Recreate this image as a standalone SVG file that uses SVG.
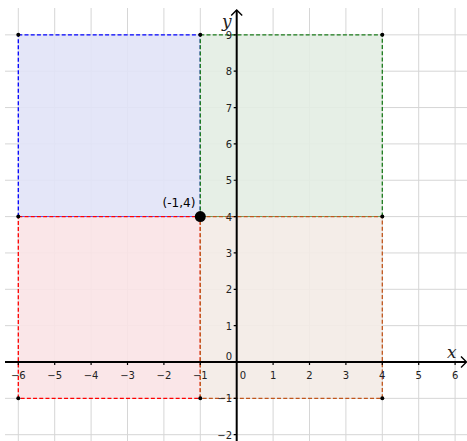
<svg xmlns="http://www.w3.org/2000/svg" width="467" height="441" viewBox="0 0 467 441">
<defs>
<style>
.grid{stroke:#d6d6d6;stroke-width:1;fill:none}
.axis{stroke:#000;stroke-width:2;fill:none}
.tick{stroke:#000;stroke-width:1.2}
.lbl{font-family:"DejaVu Sans",sans-serif;font-size:10px;fill:#222}
.ylbl{font-family:"DejaVu Sans",sans-serif;font-size:10px;fill:#222;text-anchor:end}
.xlbl{font-family:"DejaVu Sans",sans-serif;font-size:10px;fill:#222;text-anchor:middle}
.ax{font-family:"DejaVu Serif","Liberation Serif",serif;font-style:italic;font-size:17px;fill:#222}
.dash{stroke-width:1.3;stroke-dasharray:4 2.2}
.dot{fill:#000}
</style>
</defs>
<rect width="467" height="441" fill="#fff"/>
<g id="grid">
<path class="grid" d="M5 34.85H467M5 71.2H467M5 107.55H467M5 143.9H467M5 180.25H467M5 216.6H467M5 252.95H467M5 289.3H467M5 325.65H467M5 398.35H467M5 434.7H467"/>
<path class="grid" d="M18.3 8V441M54.7 8V441M91.1 8V441M127.5 8V441M163.9 8V441M200.3 8V441M273.1 8V441M309.5 8V441M345.9 8V441M382.3 8V441M418.7 8V441M455.1 8V441"/>
</g>
<g id="regionBlue">
<rect x="18.3" y="34.85" width="182" height="181.75" fill="#e1e3f7" fill-opacity="0.9" stroke="#0000ff" class="dash"/>
</g>
<g id="regionGreen">
<rect x="200.3" y="34.85" width="182" height="181.75" fill="#e3ede3" fill-opacity="0.9" stroke="#1a7a1a" class="dash"/>
</g>
<g id="regionRed">
<rect x="18.3" y="216.6" width="182" height="181.75" fill="#f9e3e5" fill-opacity="0.9" stroke="#ff0000" class="dash"/>
</g>
<g id="regionBrown">
<rect x="200.3" y="216.6" width="182" height="181.75" fill="#f3ebe6" fill-opacity="0.9" stroke="#c0561c" class="dash"/>
</g>
<g id="axes">
<path class="axis" d="M5 362H466"/>
<path class="axis" d="M236.7 441V10"/>
<path d="M461 356.5L466.5 362L461 367.5" fill="none" stroke="#000" stroke-width="1.4"/>
<path d="M231.2 15.5L236.7 10L242.2 15.5" fill="none" stroke="#000" stroke-width="1.4"/>
<path class="tick" d="M18.3 362v3M54.7 362v3M91.1 362v3M127.5 362v3M163.9 362v3M200.3 362v3M273.1 362v3M309.5 362v3M345.9 362v3M382.3 362v3M418.7 362v3M455.1 362v3"/>
<path class="tick" d="M236.7 34.85h-3M236.7 71.2h-3M236.7 107.55h-3M236.7 143.9h-3M236.7 180.25h-3M236.7 216.6h-3M236.7 252.95h-3M236.7 289.3h-3M236.7 325.65h-3M236.7 398.35h-3M236.7 434.7h-3"/>
<text class="ax" x="447" y="358">x</text>
<text class="ax" x="222" y="27">y</text>
<text class="xlbl" x="18.3" y="379">−6</text>
<text class="xlbl" x="54.7" y="379">−5</text>
<text class="xlbl" x="91.1" y="379">−4</text>
<text class="xlbl" x="127.5" y="379">−3</text>
<text class="xlbl" x="163.9" y="379">−2</text>
<text class="xlbl" x="200.3" y="379">−1</text>
<text class="xlbl" x="243" y="379">0</text>
<text class="xlbl" x="273.1" y="379">1</text>
<text class="xlbl" x="309.5" y="379">2</text>
<text class="xlbl" x="345.9" y="379">3</text>
<text class="xlbl" x="382.3" y="379">4</text>
<text class="xlbl" x="418.7" y="379">5</text>
<text class="xlbl" x="455.1" y="379">6</text>
<text class="ylbl" x="232" y="360">0</text>
<text class="ylbl" x="232" y="38.85">9</text>
<text class="ylbl" x="232" y="75.2">8</text>
<text class="ylbl" x="232" y="111.55">7</text>
<text class="ylbl" x="232" y="147.9">6</text>
<text class="ylbl" x="232" y="184.25">5</text>
<text class="ylbl" x="232" y="220.6">4</text>
<text class="ylbl" x="232" y="256.95">3</text>
<text class="ylbl" x="232" y="293.3">2</text>
<text class="ylbl" x="232" y="329.65">1</text>
<text class="ylbl" x="232" y="402.35">−1</text>
<text class="ylbl" x="232" y="438.7">−2</text>
</g>
<g id="vertices">
<circle class="dot" cx="18.3" cy="34.85" r="2"/>
<circle class="dot" cx="200.3" cy="34.85" r="2"/>
<circle class="dot" cx="382.3" cy="34.85" r="2"/>
<circle class="dot" cx="18.3" cy="216.6" r="2"/>
<circle class="dot" cx="382.3" cy="216.6" r="2"/>
<circle class="dot" cx="18.3" cy="398.35" r="2"/>
<circle class="dot" cx="200.3" cy="398.35" r="2"/>
<circle class="dot" cx="382.3" cy="398.35" r="2"/>
</g>
<g id="pointA">
<circle class="dot" cx="200.3" cy="216.6" r="5.5"/>
<text x="179" y="207" font-family="DejaVu Sans, sans-serif" font-size="12" fill="#000" text-anchor="middle">(-1,4)</text>
</g>
</svg>
